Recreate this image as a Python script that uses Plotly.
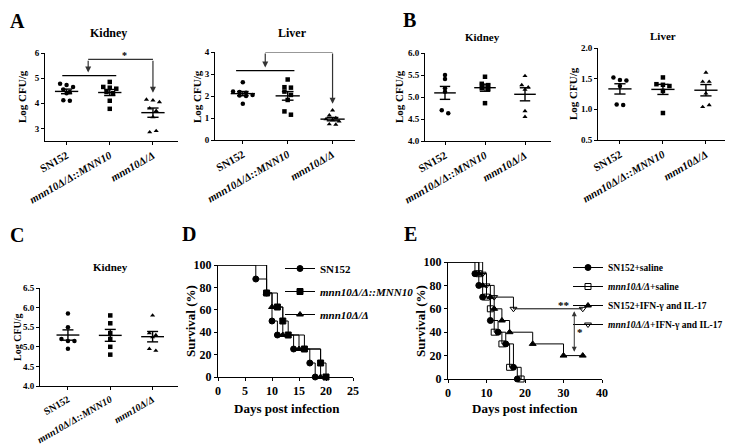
import numpy as np
import plotly.graph_objects as go

# ---------------- data ----------------
GROUPS = ["SN152", "<i>mnn10Δ/Δ::MNN10</i>", "<i>mnn10Δ/Δ</i>"]

a_kidney_sn152 = [4.78, 4.73, 4.65, 4.55, 4.45, 4.40, 4.12, 4.10]
a_kidney_mnn10 = [4.85, 4.65, 4.62, 4.58, 4.45, 4.40, 4.10, 3.78]
a_kidney_mut = [4.15, 4.12, 4.05, 3.80, 3.70, 3.45, 2.85, 2.90]

a_liver_sn152 = [2.62, 2.20, 2.18, 2.15, 2.05, 2.02, 2.00, 1.65]
a_liver_mnn10 = [2.75, 2.40, 2.38, 2.20, 2.05, 1.82, 1.30, 1.15]
a_liver_mut = [1.35, 1.12, 1.00, 0.95, 0.90, 0.85, 0.72, 0.70]

b_kidney_sn152 = [5.50, 5.41, 5.20, 5.12, 4.70, 4.63]
b_kidney_mnn10 = [5.46, 5.30, 5.27, 5.20, 5.18, 4.86]
b_kidney_mut = [5.48, 5.27, 5.22, 5.17, 4.68, 4.55]

b_liver_sn152 = [1.52, 1.48, 1.47, 1.38, 1.08, 1.07]
b_liver_mnn10 = [1.52, 1.41, 1.40, 1.38, 1.30, 0.94]
b_liver_mut = [1.60, 1.45, 1.45, 1.26, 1.04, 1.07]

c_kidney_sn152 = [5.85, 5.50, 5.20, 5.15, 5.15, 4.95]
c_kidney_mnn10 = [5.80, 5.60, 5.35, 5.20, 5.00, 4.80]
c_kidney_mut = [5.80, 5.35, 5.30, 5.25, 4.95, 4.90]

# panel D survival (%)
d_days_sn152 = [0, 7, 9, 10, 11, 14, 17, 18]
d_surv_sn152 = [100, 87.5, 75, 50, 37.5, 25, 12.5, 0]
d_days_mnn10 = [0, 9, 11, 12, 13, 16, 19, 20]
d_surv_mnn10 = [100, 75, 62.5, 50, 37.5, 25, 12.5, 0]
d_days_mut = [0, 9, 10, 12, 15, 19]
d_surv_mut = [100, 75, 62.5, 37.5, 25, 0]

# panel E survival (%)
e_days_sn_saline = [0, 7, 8, 9, 11, 13, 15, 17, 18]
e_surv_sn_saline = [100, 90, 80, 70, 50, 40, 30, 10, 0]
e_days_mut_saline = [0, 8, 10, 11, 12, 14, 16, 19]
e_surv_mut_saline = [100, 90, 70, 60, 40, 30, 10, 0]
e_days_sn_ifn = [0, 8, 9, 11, 12, 14, 16, 22, 30, 35]
e_surv_sn_ifn = [100, 90, 80, 70, 60, 50, 40, 30, 20, 20]
e_days_mut_ifn = [0, 9, 10, 12, 17, 35]
e_surv_mut_ifn = [100, 90, 80, 70, 60, 60]

D_NAMES = ["SN152", "<i>mnn10Δ/Δ::MNN10</i>", "<i>mnn10Δ/Δ</i>"]
E_NAMES = ["SN152+saline", "<i>mnn10Δ/Δ</i>+saline",
           "SN152+IFN-γ and IL-17", "<i>mnn10Δ/Δ</i>+IFN-γ and IL-17"]

# ---------------- layout helpers ----------------
# the page body has an 8px margin, so the figure is drawn 8px smaller and
# every window-pixel position is shifted by that offset
OFF = 8
W, H = 733 - OFF, 444 - OFF
FONT = "Liberation Serif"
SYMS = ["circle", "square", "triangle-up"]


def fx(x):
    return (x - OFF) / W


def fy(y):
    return 1 - (y - OFF) / H


def bfont(size, **kw):
    return dict(family=FONT, size=size, color="black", weight="bold", **kw)


def ax_style(**kw):
    d = dict(showline=True, linecolor="black", linewidth=1, ticks="outside",
             ticklen=3, tickwidth=1, tickcolor="black", showgrid=False,
             zeroline=False, automargin=False, tickfont=bfont(9))
    d.update(kw)
    return d


def spread(vals, tol, step):
    order = np.argsort(vals)[::-1]
    groups = []
    for i in order:
        if groups and abs(vals[groups[-1][0]] - vals[i]) < tol:
            groups[-1].append(i)
        else:
            groups.append([i])
    offs = np.zeros(len(vals))
    for g in groups:
        for k, i in enumerate(sorted(g)):
            offs[i] = (k - (len(g) - 1) / 2) * step
    return offs


def txt(s, x, y, size, **kw):
    d = dict(text=s, x=fx(x), y=fy(y), xref="paper", yref="paper",
             showarrow=False, font=bfont(size), xanchor="center", yanchor="middle")
    d.update(kw)
    return d


def letter(s, x, y):
    # x, y: left edge and bottom of the panel letter box
    return txt(s, x, y, 20, xanchor="left", yanchor="bottom")


fig = go.Figure()
layout = {}
annotations = []
shapes = []

# (groups, y range, y ticks, tick format, x pixel span, y pixel span, x range, tick size)
scatter_panels = [
    ([a_kidney_sn152, a_kidney_mnn10, a_kidney_mut], [2.5, 6], [3, 4, 5, 6], "d",
     (45, 178), (53, 141), [-0.5, 2.58], 11),
    ([a_liver_sn152, a_liver_mnn10, a_liver_mut], [0, 4], [0, 1, 2, 3, 4], "d",
     (215, 355), (52, 140), [-0.62, 2.5], 11),
    ([b_kidney_sn152, b_kidney_mnn10, b_kidney_mut], [4, 6], [4, 4.5, 5, 5.5, 6], ".1f",
     (425, 551), (53, 141), [-0.5, 2.65], 11),
    ([b_liver_sn152, b_liver_mnn10, b_liver_mut], [0.5, 2.0], [0.5, 1.0, 1.5, 2.0], ".1f",
     (598, 727), (48, 140), [-0.51, 2.49], 11),
    ([c_kidney_sn152, c_kidney_mnn10, c_kidney_mut], [4, 6.5], [4, 4.5, 5, 5.5, 6, 6.5], ".1f",
     (40, 178), (288, 386), [-0.66, 2.6], 10),
]

for k, (groups, yr, yt, fmt, (x0, x1), (y0, y1), xr, tsz) in enumerate(scatter_panels, start=1):
    xa, ya = f"x{k}", f"y{k}"
    upp = (yr[1] - yr[0]) / (y1 - y0)
    cpp = (xr[1] - xr[0]) / (x1 - x0)
    for ci, vals in enumerate(groups):
        v = np.array(vals)
        offs = spread(v, tol=3.5 * upp, step=6.5 * cpp)
        fig.add_trace(go.Scatter(
            x=ci + offs, y=v, mode="markers", xaxis=xa, yaxis=ya, showlegend=False,
            marker=dict(symbol=SYMS[ci], size=4.5, color="black"), cliponaxis=False))
        m = v.mean()
        se = v.std(ddof=1) / np.sqrt(len(v))
        fig.add_trace(go.Scatter(
            x=[ci - .27, ci + .27, None, ci - .13, ci + .13, None,
               ci - .13, ci + .13, None, ci, ci],
            y=[m, m, None, m + se, m + se, None, m - se, m - se, None, m - se, m + se],
            mode="lines", xaxis=xa, yaxis=ya, showlegend=False,
            line=dict(color="black", width=1.4)))
    sfx = "" if k == 1 else str(k)
    layout[f"xaxis{sfx}"] = ax_style(
        domain=[fx(x0), fx(x1)], anchor=ya, range=xr, tickvals=[0, 1, 2],
        ticktext=GROUPS, tickangle=-30, tickfont=bfont(tsz))
    layout[f"yaxis{sfx}"] = ax_style(
        domain=[fy(y1), fy(y0)], anchor=xa, range=yr, tickvals=yt,
        tickformat=fmt)


# ---- significance brackets in panel A ----
def bracket(xa, ya, lo_y, lo_x, top_y, left_tip, right_tip, star, star_xy):
    shapes.append(dict(type="line", xref=xa, yref=ya, x0=lo_x[0], x1=lo_x[1],
                       y0=lo_y, y1=lo_y, line=dict(color="black", width=1.2)))
    shapes.append(dict(type="line", xref=xa, yref=ya, x0=0.5, x1=2,
                       y0=top_y, y1=top_y, line=dict(color="#333", width=1.2)))
    for xx, tip in [(0.5, left_tip), (2, right_tip)]:
        annotations.append(dict(x=xx, y=tip, ax=xx, ay=top_y, xref=xa, yref=ya,
                                axref=xa, ayref=ya, text="", showarrow=True,
                                arrowhead=2, arrowsize=1, arrowwidth=1.2,
                                arrowcolor="#333"))
    annotations.append(dict(x=star_xy[0], y=star_xy[1], xref=xa, yref=ya, text=star,
                            showarrow=False, font=bfont(10)))


bracket("x", "y", 5.1, (-0.1, 1.15), 5.75, 5.22, 4.42, "*", (1.33, 5.9))
bracket("x2", "y2", 3.15, (-0.15, 1.15), 4.0, 3.3, 1.65, "**", (1.3, 4.2))


def survival(sets, names, marks, xa, ya, leg):
    for i, (dx, dy) in enumerate(sets):
        fig.add_trace(go.Scatter(
            x=dx, y=dy, mode="lines", line=dict(shape="hv", color="black", width=1),
            xaxis=xa, yaxis=ya, showlegend=False, cliponaxis=False))
        fig.add_trace(go.Scatter(
            x=dx[1:], y=dy[1:], mode="markers", xaxis=xa, yaxis=ya, showlegend=False,
            marker=dict(size=6, line=dict(width=1, color="black"), **marks[i]),
            cliponaxis=False))
        # legend entry
        fig.add_trace(go.Scatter(
            x=[None], y=[None], mode="lines+markers", name=names[i], xaxis=xa, yaxis=ya,
            line=dict(color="black", width=1),
            marker=dict(size=6, line=dict(width=1, color="black"), **marks[i]),
            legend=leg, legendgroup=f"{leg}{i}"))


# ---------------- panel D ----------------
d_sets = [(d_days_sn152, d_surv_sn152), (d_days_mnn10, d_surv_mnn10),
          (d_days_mut, d_surv_mut)]
d_marks = [dict(symbol=s, color="black") for s in SYMS]
survival(d_sets, D_NAMES, d_marks, "x6", "y6", "legend")

layout["xaxis6"] = ax_style(domain=[fx(218), fx(353)], anchor="y6", range=[0, 25],
                            tickvals=[0, 5, 10, 15, 20, 25], tickfont=bfont(12))
layout["yaxis6"] = ax_style(domain=[fy(377), fy(265)], anchor="x6", range=[0, 100],
                            tickvals=[0, 20, 40, 60, 80, 100], tickfont=bfont(12))

# ---------------- panel E ----------------
e_sets = [(e_days_sn_saline, e_surv_sn_saline), (e_days_mut_saline, e_surv_mut_saline),
          (e_days_sn_ifn, e_surv_sn_ifn), (e_days_mut_ifn, e_surv_mut_ifn)]
e_marks = [dict(symbol="circle", color="black"),
           dict(symbol="square-open", color="black"),
           dict(symbol="triangle-up", color="black"),
           dict(symbol="triangle-down-open", color="black")]
survival(e_sets, E_NAMES, e_marks, "x7", "y7", "legend2")

layout["xaxis7"] = ax_style(domain=[fx(448), fx(602)], anchor="y7", range=[0, 40],
                            tickvals=[0, 10, 20, 30, 40], tickfont=bfont(12))
layout["yaxis7"] = ax_style(domain=[fy(379), fy(262)], anchor="x7", range=[0, 100],
                            tickvals=[0, 20, 40, 60, 80, 100], tickfont=bfont(12))

annotations.append(dict(x=30, y=63, xref="x7", yref="y7", text="**", showarrow=False,
                        font=bfont(11)))
annotations.append(dict(x=34.4, y=40, xref="x7", yref="y7", text="*", showarrow=False,
                        font=bfont(11)))
annotations.append(dict(x=32.8, y=58, ax=32.8, ay=22, xref="x7", yref="y7",
                        axref="x7", ayref="y7", text="", showarrow=True,
                        arrowhead=2, startarrowhead=2, arrowside="end+start",
                        arrowsize=1, arrowwidth=1, arrowcolor="#333"))

# ---------------- text ----------------
annotations += [
    letter("A", 8, 34), letter("B", 401, 33), letter("C", 8, 248),
    letter("D", 180, 247), letter("E", 402, 247),
    txt("Kidney", 108, 33, 12), txt("Liver", 292, 33, 12),
    txt("Kidney", 482, 37, 11), txt("Liver", 663, 36, 11),
    txt("Kidney", 110, 267, 11),
    txt("Log CFU/g", 22, 97, 11, textangle=-90),
    txt("Log CFU/g", 197, 96, 11, textangle=-90),
    txt("Log CFU/g", 399, 97, 11, textangle=-90),
    txt("Log CFU/g", 573, 94, 11, textangle=-90),
    txt("Log CFU/g", 17, 337, 10, textangle=-90),
    txt("Survival (%)", 190, 321, 13, textangle=-90),
    txt("Survival (%)", 420, 321, 13, textangle=-90),
    txt("Days post infection", 287, 408, 13),
    txt("Days post infection", 525, 408, 13),
]

fig.update_layout(
    width=W, height=H, margin=dict(l=0, r=0, t=0, b=0, autoexpand=False),
    paper_bgcolor="white", plot_bgcolor="white",
    font=dict(family=FONT, color="black"),
    annotations=annotations, shapes=shapes,
    legend=dict(x=fx(280), y=fy(254), xanchor="left", yanchor="top",
                bgcolor="rgba(0,0,0,0)", font=bfont(11), tracegroupgap=4),
    legend2=dict(x=fx(568), y=fy(253), xanchor="left", yanchor="top",
                 bgcolor="rgba(0,0,0,0)", font=bfont(9.5), tracegroupgap=0),
    **layout,
)

fig.write_html("out.html")
